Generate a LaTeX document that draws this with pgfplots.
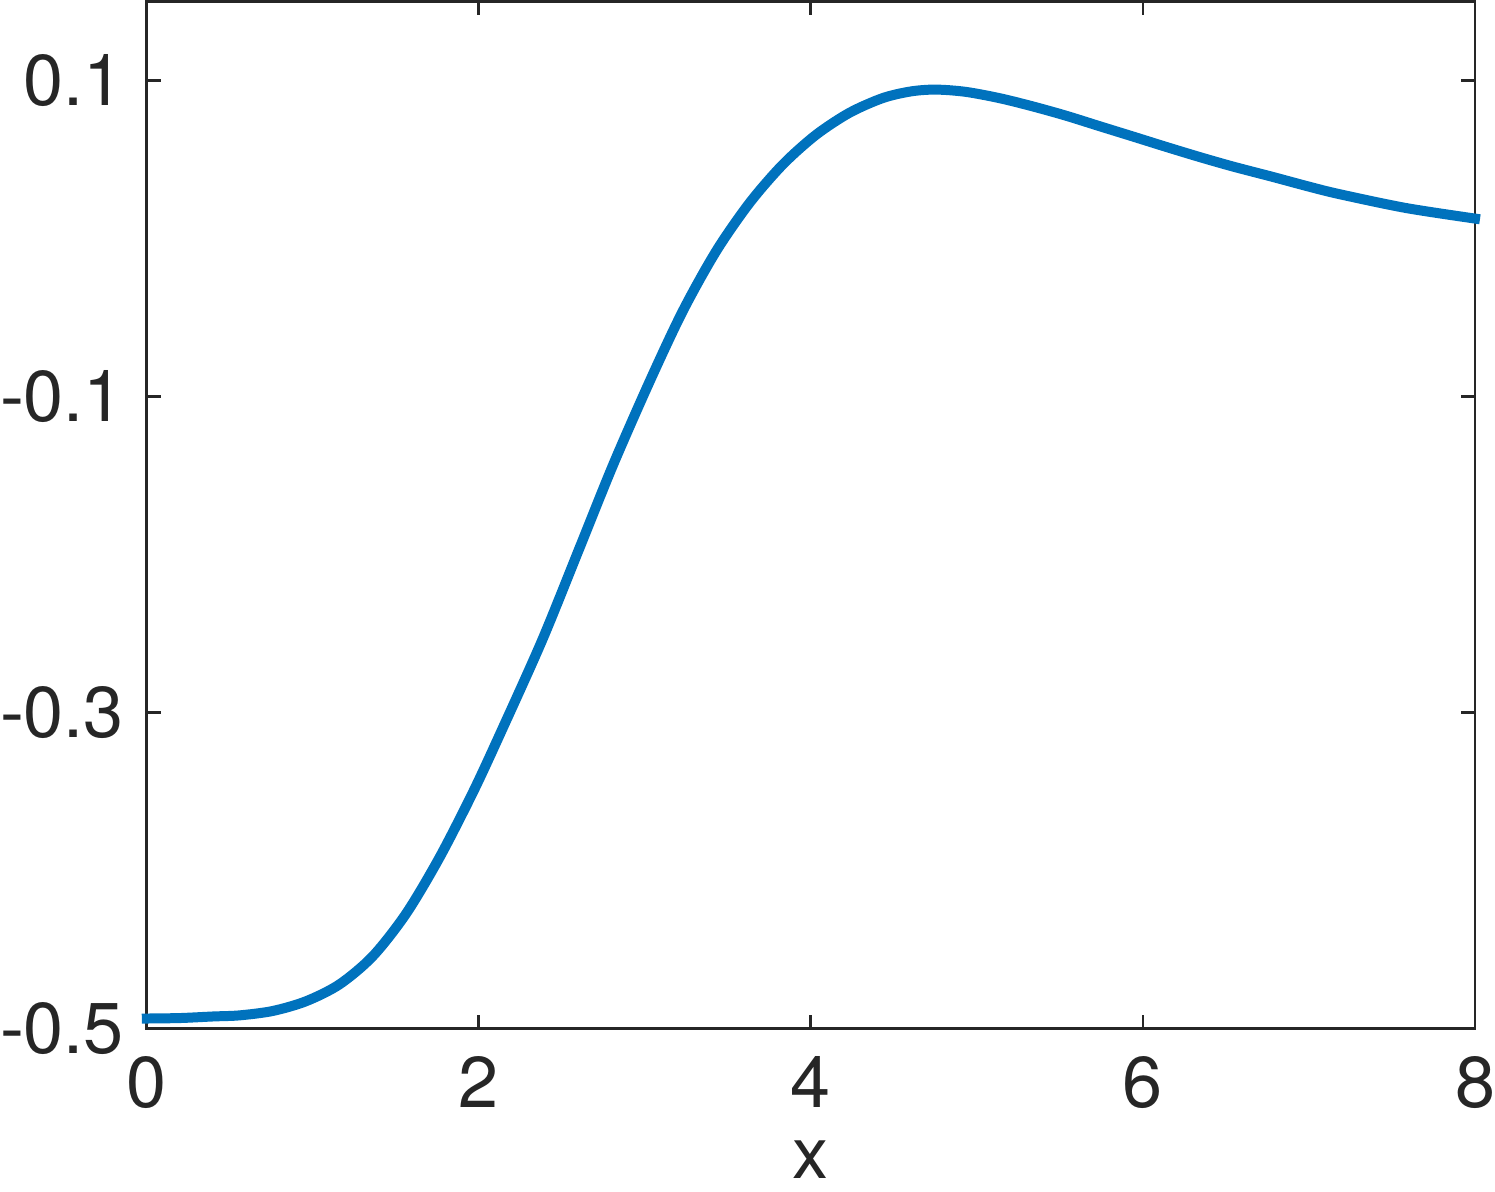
\documentclass[border=0pt]{standalone}
\usepackage{pgfplots}
\pgfplotsset{compat=1.18}
\usepackage{fontspec}
\setmainfont{TeX Gyre Heros}
\definecolor{mblue}{RGB}{0,114,189}
\definecolor{axgray}{RGB}{38,38,38}
\begin{document}
\fontsize{18}{21}\selectfont
\begin{tikzpicture}
\begin{axis}[
  scale only axis,
  width=332.25pt, height=257pt,
  xmin=0, xmax=8, ymin=-0.5, ymax=0.15,
  xtick={0,2,4,6,8},
  ytick={-0.5,-0.3,-0.1,0.1},
  yticklabels={-0.5,-0.3,-0.1,0.1},
  xticklabels={0,2,4,6,8},
  tick align=inside,
  major tick length=3.5pt,
  axis line style={axgray, line width=0.7pt},
  every tick/.style={axgray, line width=0.7pt},
  tick label style={font=\fontsize{18}{21}\selectfont, text=axgray, inner sep=0pt},
  xticklabel style={yshift=-6.75pt},
  yticklabel style={xshift=-5.5pt},
  xlabel={x},
  xlabel style={font=\fontsize{18}{21}\selectfont, text=axgray, inner xsep=0pt, inner ysep=3.25pt,
    at={(axis description cs:0.5,0)}, anchor=north, yshift=-24.5pt},
  clip=false,
]
\addplot[mblue, line width=2.5pt, line cap=rect, smooth, tension=0.5] coordinates {
(0,-0.4935) (0.2,-0.4932) (0.4,-0.4922) (0.56,-0.4915) (0.76,-0.4887)
(0.961,-0.4825) (1.162,-0.4718) (1.362,-0.4540) (1.563,-0.4270) (1.764,-0.3915)
(1.964,-0.3505) (2.13,-0.313) (2.38,-0.2545) (2.60,-0.1975) (2.81,-0.1429)
(3.03,-0.0902) (3.228,-0.046) (3.429,-0.0081) (3.63,0.0224) (3.83,0.0467)
(4.03,0.0655) (4.232,0.0795) (4.432,0.0888) (4.6,0.0930) (4.75,0.0942)
(4.93,0.0928) (5.135,0.0888) (5.335,0.0836) (5.536,0.0777) (5.737,0.0711)
(5.937,0.0646) (6.138,0.0580) (6.339,0.0516) (6.539,0.0456) (6.78,0.0390)
(7.0,0.0328) (7.181,0.0281) (7.583,0.0193) (8.0,0.0126)
};
\end{axis}
\end{tikzpicture}
\end{document}
